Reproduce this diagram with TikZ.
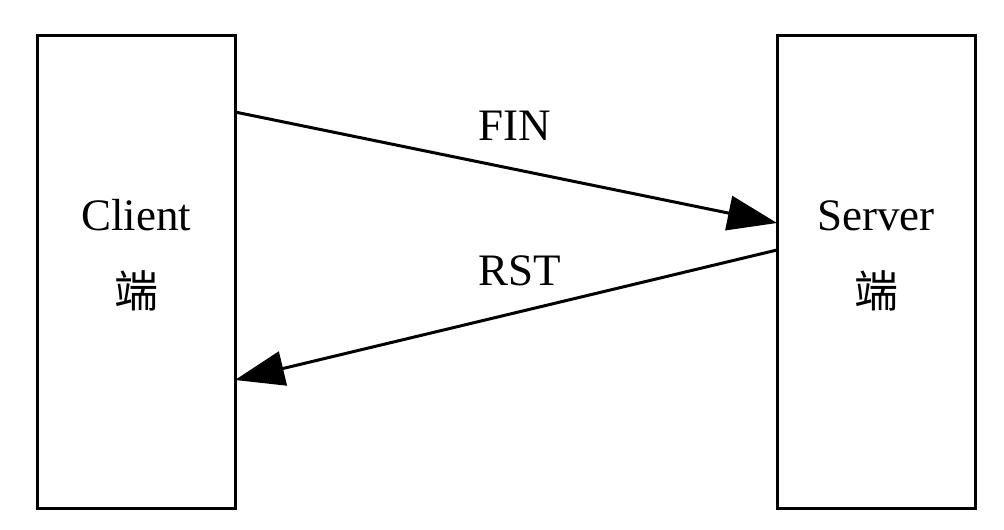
\documentclass[tikz,border=0pt]{standalone}
\usepackage{fontspec}
\setmainfont{Liberation Serif}
\newfontfamily\cjk{Noto Sans CJK SC}
\usetikzlibrary{arrows.meta}
\begin{document}
\begin{tikzpicture}[x=0.75pt,y=-0.75pt,
  box/.style={draw, line width=2.25pt, minimum width=148.5pt, minimum height=354.75pt, inner sep=0pt, outer sep=0pt},
  lbl/.style={font=\fontsize{33.75}{40}\selectfont, inner sep=0pt, anchor=base},
  cjklbl/.style={font=\cjk\fontsize{33}{40}\selectfont, inner sep=0pt},
  msg/.style={line width=2.25pt, -{Triangle[length=37pt, width=26pt]}}
]
\useasboundingbox (0,0) rectangle (1004,529);
\node[box] (client) at (136,271.5) {};
\node[box] (server) at (876,271.5) {};
\node[lbl] (clienttxt) at (136,230) {Client};
\node[cjklbl] (clientcjk) at (136,291) {端};
\node[lbl] (servertxt) at (876,230) {Server};
\node[cjklbl] (servercjk) at (876,291) {端};
\coordinate (c1) at ([yshift=-77*0.75pt]client.north east);
\coordinate (s1) at ([yshift=-188*0.75pt]server.north west);
\coordinate (s2) at ([yshift=-215*0.75pt]server.north west);
\coordinate (c2) at ([yshift=-345*0.75pt]client.north east);
\draw[msg] (c1) -- (s1);
\draw[msg] (s2) -- (c2);
\node[lbl] (fin) at (515,140) {FIN};
\node[lbl] (rst) at (520,285) {RST};
\end{tikzpicture}
\end{document}
